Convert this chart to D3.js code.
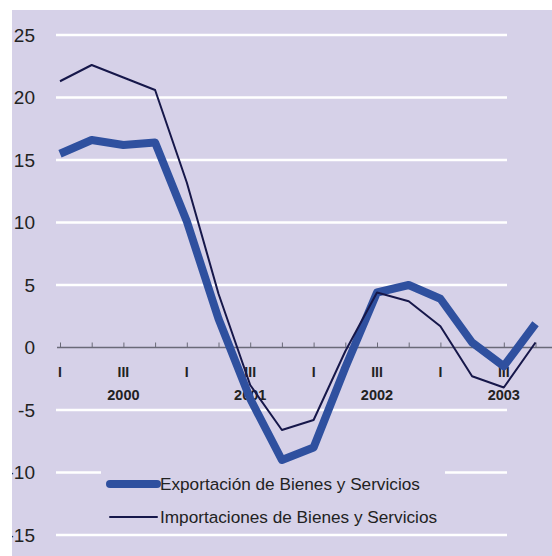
<!DOCTYPE html>
<html>
<head>
<meta charset="utf-8">
<script src="https://cdn.jsdelivr.net/npm/d3@7"></script>
<style>
  html, body { margin: 0; padding: 0; background: #ffffff; }
  svg { display: block; }
  text { font-family: "Liberation Sans", Arial, Helvetica, sans-serif; fill: #222; }
</style>
</head>
<body>
<svg id="chart" width="552" height="556"></svg>
<script>
// Quarterly growth rates (%), 2000 Q1 – 2003 Q4
const quarters = ["2000-I","2000-II","2000-III","2000-IV",
                  "2001-I","2001-II","2001-III","2001-IV",
                  "2002-I","2002-II","2002-III","2002-IV",
                  "2003-I","2003-II","2003-III","2003-IV"];
const exportaciones = [15.5, 16.6, 16.2, 16.4, 10.1, 2.3, -4.1, -9.0,
                       -8.0, -1.6, 4.4, 5.0, 3.9, 0.4, -1.5, 1.9];
const importaciones = [21.3, 22.6, 21.6, 20.6, 13.2, 4.3, -3.0, -6.6,
                       -5.8, -0.3, 4.4, 3.7, 1.7, -2.3, -3.2, 0.4];
const yTicks = [25, 20, 15, 10, 5, 0, -5, -10, -15];
const quarterLabels = ["I", "III", "I", "III", "I", "III", "I", "III"];
const quarterLabelIdx = [0, 2, 4, 6, 8, 10, 12, 14];
const years = ["2000", "2001", "2002", "2003"];
const yearIdx = [2, 6, 10, 14];
const seriesNames = ["Exportación de Bienes y Servicios", "Importaciones de Bienes y Servicios"];

const svg = d3.select("#chart");
const W = 552, H = 556;
const panel = { x: 12, y: 10, w: W - 12, h: H - 10 };
const bg = "#d6d1e8";

const x = d3.scaleLinear().domain([0, quarters.length - 1]).range([60, 535.5]);
const y = d3.scaleLinear().domain([-15, 25]).range([535, 35]);

svg.append("defs").append("clipPath").attr("id", "panelClip")
  .append("rect").attr("x", panel.x).attr("y", panel.y).attr("width", panel.w).attr("height", panel.h);

const root = svg.append("g").attr("clip-path", "url(#panelClip)");
root.append("rect").attr("x", panel.x).attr("y", panel.y)
  .attr("width", panel.w).attr("height", panel.h).attr("fill", bg);

// horizontal gridlines (zero line is drawn as the axis)
root.append("g").selectAll("line").data(yTicks.filter(d => d !== 0)).join("line")
  .attr("x1", 56).attr("x2", 507)
  .attr("y1", d => y(d)).attr("y2", d => y(d))
  .attr("stroke", "#ffffff").attr("stroke-width", 2.5);

// y tick labels
root.append("g").selectAll("text").data(yTicks).join("text")
  .attr("x", 35).attr("y", d => y(d)).attr("dy", "0.36em")
  .attr("text-anchor", "end").attr("font-size", 19)
  .text(d => d < 0 ? "-" + Math.abs(d) : d);

// zero axis with quarter ticks
const axis = d3.axisTop(x).tickValues(d3.range(quarters.length)).tickSize(5).tickFormat("");
const ax = root.append("g").attr("transform", `translate(0,${y(0)})`).call(axis);
ax.select(".domain").remove();
ax.selectAll(".tick line").attr("stroke", "#6a6a78").attr("stroke-width", 1);
root.append("line").attr("x1", 57).attr("x2", W).attr("y1", y(0)).attr("y2", y(0))
  .attr("stroke", "#6a6a78").attr("stroke-width", 1.3);

// quarter and year labels
root.append("g").selectAll("text").data(quarterLabels).join("text")
  .attr("x", (d, i) => x(quarterLabelIdx[i])).attr("y", y(0) + 29)
  .attr("text-anchor", "middle").attr("font-size", 14).attr("font-weight", "bold")
  .text(d => d);
root.append("g").selectAll("text").data(years).join("text")
  .attr("x", (d, i) => x(yearIdx[i])).attr("y", y(0) + 52)
  .attr("text-anchor", "middle").attr("font-size", 14.5).attr("font-weight", "bold")
  .text(d => d);

// legend box masks the -10 gridline
const legend = root.append("g");
legend.append("rect").attr("x", 101).attr("y", 462).attr("width", 344).attr("height", 66).attr("fill", bg);

// series lines
const line = d3.line().x((d, i) => x(i)).y(d => y(d));
root.append("path").datum(exportaciones)
  .attr("d", line).attr("fill", "none")
  .attr("stroke", "#2f509f").attr("stroke-width", 8)
  .attr("stroke-linejoin", "round");
root.append("path").datum(importaciones)
  .attr("d", line).attr("fill", "none")
  .attr("stroke", "#16174a").attr("stroke-width", 2)
  .attr("stroke-linejoin", "round");

// legend entries
const legendItems = [
  { name: seriesNames[0], color: "#2f509f", width: 8, ly: 484 },
  { name: seriesNames[1], color: "#16174a", width: 2, ly: 517 }
];
legendItems.forEach(it => {
  legend.append("line").attr("x1", 110).attr("x2", 157).attr("y1", it.ly).attr("y2", it.ly)
    .attr("stroke", it.color).attr("stroke-width", it.width).attr("stroke-linecap", "round");
  legend.append("text").attr("x", 160).attr("y", it.ly).attr("dy", "0.36em")
    .attr("font-size", 17.2).text(it.name);
});
</script>
</body>
</html>
